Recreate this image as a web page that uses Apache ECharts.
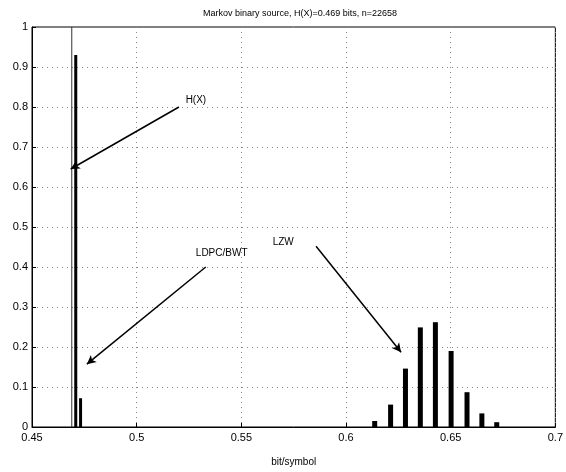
<!DOCTYPE html>
<html>
<head>
<meta charset="utf-8">
<script src="https://cdn.jsdelivr.net/npm/echarts@6/dist/echarts.min.js"></script>
<style>html,body{margin:0;padding:0;background:#fff}#c{width:566px;height:472px}</style>
</head>
<body>
<div id="c"></div>
<script>
// Data
const ldpcX = [0.4709, 0.4732];
const ldpcY = [0.93, 0.072];
const lzwX = [0.6137, 0.6213, 0.6284, 0.6355, 0.6427, 0.6502, 0.6578, 0.6649, 0.6720];
const lzwY = [0.015, 0.056, 0.146, 0.249, 0.262, 0.190, 0.087, 0.034, 0.012];
const entropyX = 0.469;
const titleText = 'Markov binary source, H(X)=0.469 bits, n=22658';
// annotation arrows [x1,y1,x2,y2] and labels [text,x,y]
const arrows = [
  [0.5202, 0.80, 0.4685, 0.645],
  [0.5330, 0.400, 0.4762, 0.157],
  [0.5857, 0.452, 0.6263, 0.187]
];
const labels = [
  ['H(X)', 0.5283, 0.817],
  ['LDPC/BWT', 0.5406, 0.4346],
  ['LZW', 0.5700, 0.462]
];

const font = 'Liberation Sans, Arial, sans-serif';
const chart = echarts.init(document.getElementById('c'));

function barSeries(xs, ys, w) {
  return {
    type: 'custom',
    data: xs.map((x, i) => [x, ys[i]]),
    renderItem: function (params, api) {
      const top = api.coord([api.value(0), api.value(1)]);
      const base = api.coord([api.value(0), 0]);
      return {
        type: 'rect',
        shape: { x: top[0] - w / 2, y: top[1], width: w, height: base[1] - top[1] },
        style: { fill: '#000' }
      };
    },
    z: 3
  };
}

chart.setOption({
  animation: false,
  backgroundColor: '#fff',
  title: {
    text: titleText,
    left: 295, textAlign: 'center', top: 4,
    textStyle: { fontFamily: font, fontSize: 9, fontWeight: 'normal', color: '#000' }
  },
  grid: { left: 32, right: 7, top: 27, bottom: 40, show: true, borderColor: '#000', borderWidth: 1 },
  xAxis: {
    type: 'value', min: 0.45, max: 0.7, interval: 0.05,
    name: 'bit/symbol', nameLocation: 'middle', nameGap: 30,
    nameTextStyle: { fontFamily: font, fontSize: 10, color: '#000' },
    axisLine: { show: true, lineStyle: { color: '#000' } },
    axisTick: { show: true, inside: true, length: 4, lineStyle: { color: '#000' } },
    axisLabel: { fontFamily: font, fontSize: 11, color: '#000', margin: 5 },
    splitLine: { show: true, lineStyle: { color: '#888', type: [1, 4], width: 1 } }
  },
  yAxis: {
    type: 'value', min: 0, max: 1, interval: 0.1,
    axisLine: { show: true, lineStyle: { color: '#000' } },
    axisTick: { show: true, inside: true, length: 4, lineStyle: { color: '#000' } },
    axisLabel: { fontFamily: font, fontSize: 11, color: '#000', margin: 4 },
    splitLine: { show: true, lineStyle: { color: '#888', type: [1, 4], width: 1 } }
  },
  series: [
    barSeries(ldpcX, ldpcY, 3),
    barSeries(lzwX, lzwY, 5),
    {
      type: 'line',
      data: [[entropyX, 0], [entropyX, 1]],
      showSymbol: false,
      lineStyle: { color: '#333', width: 1 },
      z: 2,
      markLine: {
        silent: true,
        symbol: ['none', 'arrow'],
        symbolSize: [7, 9],
        lineStyle: { color: '#000', width: 1.5, type: 'solid' },
        label: { show: false },
        data: arrows.map(a => [{ coord: [a[0], a[1]] }, { coord: [a[2], a[3]] }])
      },
      markPoint: {
        silent: true,
        symbol: 'circle',
        symbolSize: 0,
        label: {
          show: true, position: 'inside',
          fontFamily: font, fontSize: 10, color: '#000',
          formatter: p => p.name
        },
        data: labels.map(l => ({ name: l[0], coord: [l[1], l[2]] }))
      }
    }
  ]
});
</script>
</body>
</html>
